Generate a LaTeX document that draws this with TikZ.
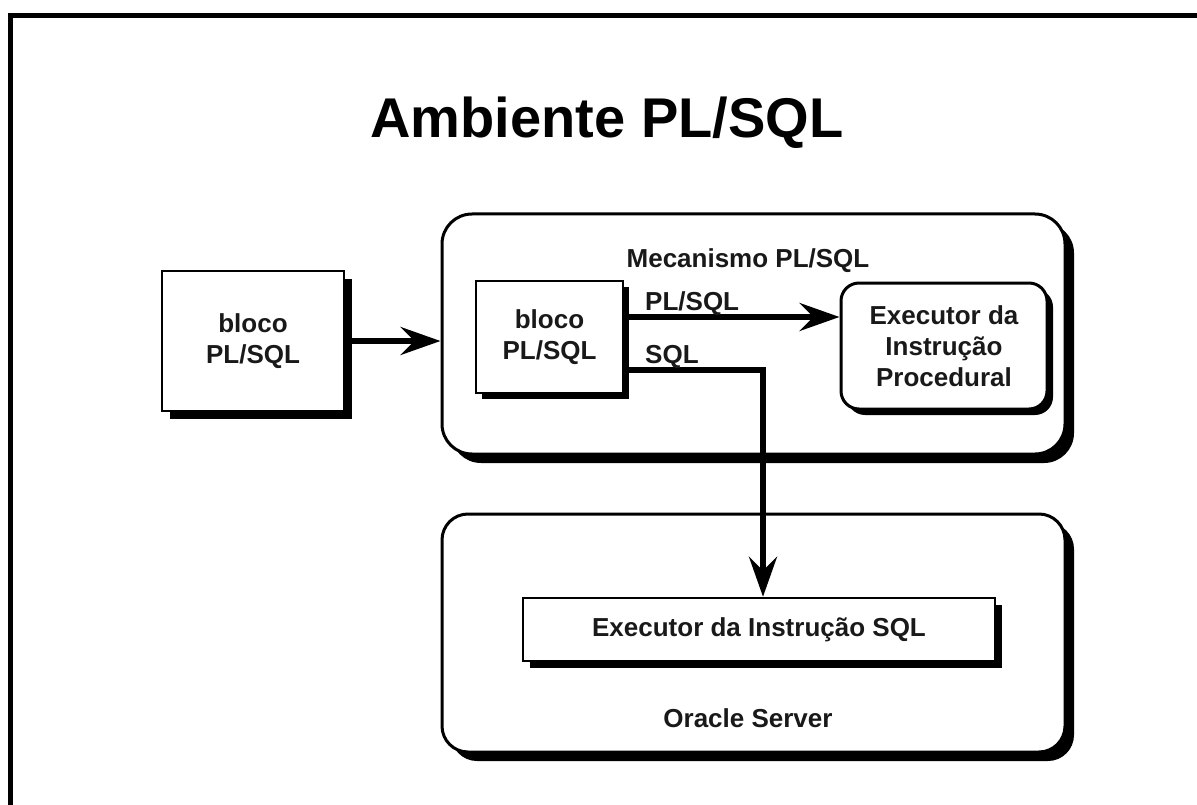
\documentclass[tikz,border=0pt]{standalone}
\usepackage{fontspec}
\setmainfont{Liberation Sans}
\usetikzlibrary{arrows.meta,shadows}
\begin{document}
\begin{tikzpicture}[x=1pt,y=-1pt,
  txt/.style={font=\bfseries\fontsize{26}{31}\selectfont, text=black!90},
  box/.style={txt, draw=black, fill=white, line width=2.5pt, inner sep=0pt, align=center},
  rbox/.style={box, rounded corners=#1},
  shade/.style={drop shadow={shadow xshift=#1, shadow yshift=-#1, fill=black, opacity=1}},
  flow/.style={line width=6pt, -{Stealth[length=40pt, width=28pt, inset=14pt]}},
  lbl/.style={txt, inner sep=0pt, anchor=base west}
]
\useasboundingbox (0,0) rectangle (1197,805);

% page frame (top and left rules)
\draw[line width=5pt] (10,805) -- (10,15.5) -- (1197,15.5);

% heading
\node[font=\bfseries\fontsize{56}{60}\selectfont, anchor=base, inner sep=0pt] (title) at (607,138) {Ambiente PL/SQL};

% engine and server containers
\node[rbox=30pt, line width=3pt, shade=9pt, minimum width=623pt, minimum height=240pt] (engine) at (753.5,334) {};
\node[txt, anchor=base, inner sep=0pt] (enginelbl) at (748,267) {Mecanismo PL/SQL};

\node[rbox=26pt, line width=3pt, shade=9pt, minimum width=623pt, minimum height=238pt] (server) at (753.5,633) {};
\node[txt, anchor=base, inner sep=0pt] (serverlbl) at (748,727) {Oracle Server};

% blocks
\node[box, shade=8pt, minimum width=182pt, minimum height=140pt] (block) at (253,341) {bloco\\PL/SQL};
\node[box, shade=6pt, minimum width=147pt, minimum height=112pt] (inblock) at (549.5,337) {bloco\\PL/SQL};
\node[rbox=18pt, line width=3pt, shade=6pt, minimum width=206pt, minimum height=126pt] (proc) at (944,346) {Executor da\\Instrução\\Procedural};
\node[box, shade=7pt, minimum width=472pt, minimum height=63pt] (sqlexec) at (759,629.5) {Executor da Instrução SQL};

% connectors
\draw[flow] (block.east) -- (block.east -| engine.west);
\coordinate (plsqlout) at ([yshift=20pt]inblock.east);
\coordinate (sqlout) at ([yshift=-33pt]inblock.east);
\draw[flow] (plsqlout) -- (plsqlout -| proc.west);
\draw[flow] (sqlout) -| ([xshift=4pt]sqlexec.north);

\node[lbl] (plsqllbl) at (645,310) {PL/SQL};
\node[lbl] (sqllbl) at (645,363) {SQL};
\end{tikzpicture}
\end{document}
